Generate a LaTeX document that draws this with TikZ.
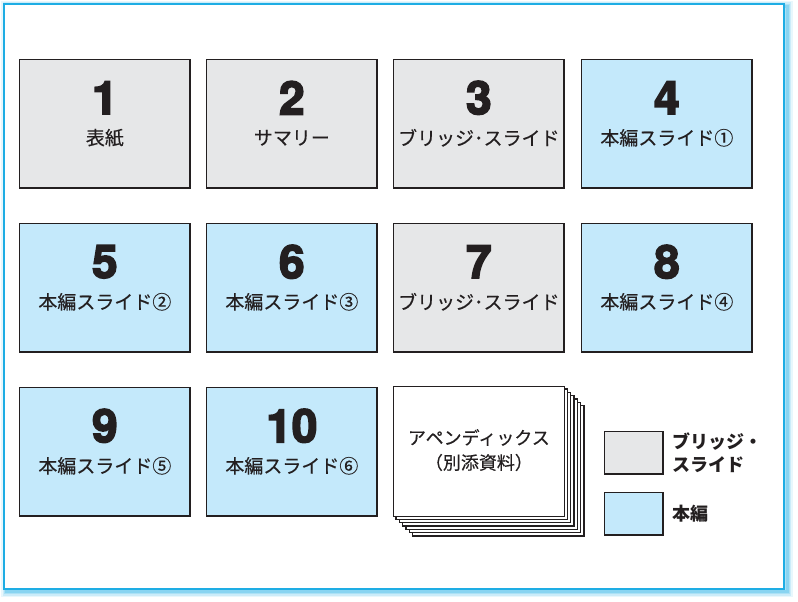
\documentclass[tikz,border=0pt]{standalone}
\usepackage{fontspec}
\setmainfont{Noto Sans CJK JP}
\newfontfamily\jp{Noto Sans CJK JP}[FakeBold=0.35]
\newfontfamily\jpb{Noto Sans CJK JP}
\newfontfamily\numfont{texgyreheros-bold.otf}[FakeBold=3.6]
\definecolor{ink}{HTML}{231F20}
\definecolor{greyfill}{HTML}{E6E7E8}
\definecolor{bluefill}{HTML}{C4E9FB}
\definecolor{frame}{HTML}{1EADE4}
\begin{document}
\begin{tikzpicture}[x=1pt,y=-1pt,
  slide/.style={draw=ink, line width=1.6pt, minimum width=170.5pt, minimum height=128.5pt, inner sep=0pt, anchor=north west},
  bridge/.style={slide, fill=greyfill},
  mainslide/.style={slide, fill=bluefill},
  num/.style={font=\numfont\fontsize{46}{46}\selectfont, text=ink, inner sep=0pt},
  lab/.style={font=\jp\fontsize{19}{19}\selectfont, text=ink, inner sep=0pt},
  sheet/.style={draw=ink, fill=white, line width=1.3pt},
  legbox/.style={draw=ink, line width=1.4pt, minimum width=58.5pt, minimum height=42.5pt, inner sep=0pt, anchor=north west},
  leglab/.style={font=\jpb\bfseries\fontsize{18}{23}\selectfont, text=ink, inner sep=0pt, anchor=west, align=left},
]
\useasboundingbox (0,0) rectangle (798,602);
% frame glow
\foreach \w/\o in {11/0.10,8/0.14,5/0.18,3/0.25}{
  \draw[frame, line width=\w pt, opacity=\o] (6.5,6.5) rectangle (787,591.5);
}
\fill[white] (4,4) rectangle (784,589);
\draw[frame, line width=2.2pt] (4,4) rectangle (784,589);

% row 1
\node[bridge] (s1) at (18.8,58.8) {};
\node[bridge] (s2) at (205.8,58.8) {};
\node[bridge] (s3) at (392.8,58.8) {};
\node[mainslide] (s4) at (580.8,58.8) {};
% row 2
\node[mainslide] (s5) at (18.8,222.8) {};
\node[mainslide] (s6) at (205.8,222.8) {};
\node[bridge] (s7) at (392.8,222.8) {};
\node[mainslide] (s8) at (580.8,222.8) {};
% row 3
\node[mainslide] (s9) at (18.8,386.8) {};
\node[mainslide] (s10) at (205.8,386.8) {};

\foreach \n/\t in {1/表紙,2/サマリー,3/ブリッジ･スライド,4/本編スライド①,5/本編スライド②,6/本編スライド③,7/ブリッジ･スライド,8/本編スライド④,9/本編スライド⑤,10/本編スライド⑥}{
  \node[num] (n\n) at ([yshift=-39pt]s\n.north) {\n};
  \node[lab] (l\n) at ([yshift=-79pt]s\n.north) {\t};
}

% appendix stack
\foreach \i in {6,5,4,3,2,1}{
  \draw[sheet] (392.5+3.35*\i,385.5+3.35*\i) rectangle (564+3.35*\i,516+3.35*\i);
}
\node[sheet, minimum width=171.5pt, minimum height=130.5pt, inner sep=0pt, anchor=north west] (app) at (392.5,385.5) {};
\node[lab, font=\jp\fontsize{18}{18}\selectfont] (app1) at ([yshift=-52pt]app.north) {アペンディックス};
\node[lab, font=\jp\fontsize{18}{18}\selectfont] (app2) at ([yshift=-77pt]app.north) {（別添資料）};

% legend
\node[legbox, fill=greyfill] (lg1) at (603.7,430.7) {};
\node[legbox, fill=bluefill] (lg2) at (603.7,491.7) {};
\node[leglab] (lt1) at ([xshift=9pt]lg1.east) {ブリッジ・\\スライド};
\node[leglab] (lt2) at ([xshift=9pt]lg2.east) {本編};
\end{tikzpicture}
\end{document}
